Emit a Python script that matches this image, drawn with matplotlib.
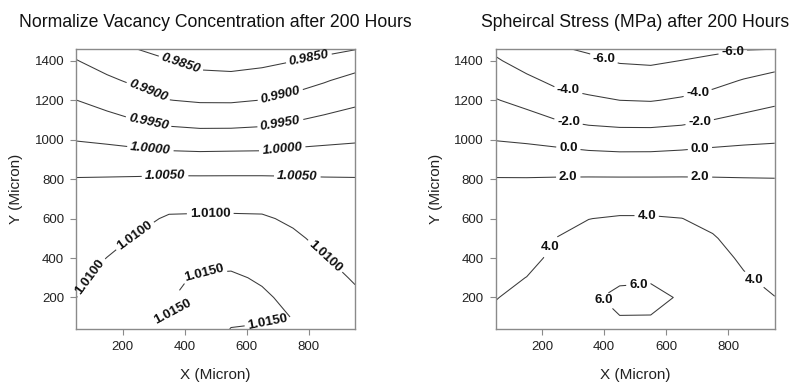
import numpy as np
import matplotlib.pyplot as plt

plt.rcParams['font.family'] = ['Liberation Sans', 'DejaVu Sans']

# grid nodes (micron)
x_nodes = [50, 150, 250, 350, 450, 550, 650, 750, 850, 950]
y_nodes = [40, 100, 200, 300, 400, 500, 600, 700, 800, 900,
           1000, 1100, 1200, 1300, 1400, 1460]

# normalized vacancy concentration, one row per y node
vacancy = [
    [1.0115, 1.0135, 1.0145, 1.0148, 1.0172, 1.0149, 1.0146, 1.0143, 1.0130, 1.0116],
    [1.0110, 1.0129, 1.0140, 1.0148, 1.0170, 1.0157, 1.0155, 1.01495, 1.0125, 1.0112],
    [1.00996, 1.0120, 1.0131, 1.0147, 1.0165, 1.0161, 1.0156, 1.0140, 1.0117, 1.0105],
    [1.0092, 1.0110, 1.0122, 1.0143, 1.0154, 1.01556, 1.01453, 1.0129, 1.01095, 1.00973],
    [1.0084, 1.01005, 1.0113, 1.0130, 1.0138, 1.0139, 1.0132, 1.0118, 1.01016, 1.00883],
    [1.00758, 1.00887, 1.01038, 1.01175, 1.0122, 1.01227, 1.01184, 1.01071, 1.00901, 1.00793],
    [1.00679, 1.00768, 1.00898, 1.01047, 1.0106, 1.01061, 1.0105, 1.00933, 1.00778, 1.00703],
    [1.00599, 1.00649, 1.00721, 1.00832, 1.00832, 1.00832, 1.00832, 1.0074, 1.00654, 1.00613],
    [1.0052, 1.0053, 1.00544, 1.00566, 1.00566, 1.00566, 1.00566, 1.00548, 1.00531, 1.00523],
    [1.00275, 1.0025, 1.0022, 1.00185, 1.00174, 1.00185, 1.00185, 1.00222, 1.00241, 1.0026],
    [0.99981, 0.99926, 0.99851, 0.9977, 0.99737, 0.99745, 0.99765, 0.99848, 0.99903, 0.99948],
    [0.99743, 0.99628, 0.99491, 0.99375, 0.99324, 0.99324, 0.99367, 0.99472, 0.99581, 0.99677],
    [0.99505, 0.99348, 0.99192, 0.99007, 0.98956, 0.98953, 0.99007, 0.99125, 0.99273, 0.99407],
    [0.99262, 0.9908, 0.98907, 0.98761, 0.9866, 0.98643, 0.98699, 0.98801, 0.98964, 0.99143],
    [0.99019, 0.98813, 0.98649, 0.98517, 0.98364, 0.98332, 0.98393, 0.98491, 0.98599, 0.98775],
    [0.9887, 0.98652, 0.98495, 0.98371, 0.98186, 0.98146, 0.98209, 0.98304, 0.9838, 0.9848],
]

# spherical stress (MPa), one row per y node
stress = [
    [4.44, 5.00, 5.30, 5.60, 5.70, 5.70, 5.40, 5.10, 4.55, 4.35],
    [4.26, 4.77, 5.14, 5.75, 5.97, 5.95, 5.65, 5.20, 4.50, 4.23],
    [3.95, 4.39, 4.87, 5.80, 6.30, 6.40, 5.85, 5.05, 4.30, 4.02],
    [3.64, 4.02, 4.59, 5.35, 5.79, 5.83, 5.39, 4.74, 4.11, 3.70],
    [3.33, 3.63, 4.32, 4.90, 5.24, 5.27, 4.93, 4.44, 3.81, 3.37],
    [3.01, 3.24, 4.05, 4.44, 4.69, 4.70, 4.48, 4.13, 3.37, 3.04],
    [2.70, 2.86, 3.46, 3.98, 4.14, 4.14, 4.02, 3.59, 2.94, 2.71],
    [2.39, 2.47, 2.80, 3.07, 3.22, 3.21, 3.10, 2.86, 2.51, 2.38],
    [2.08, 2.08, 2.13, 2.16, 2.16, 2.16, 2.16, 2.13, 2.08, 2.05],
    [1.10, 1.00, 0.88, 0.73, 0.64, 0.65, 0.75, 0.86, 0.94, 0.97],
    [-0.06, -0.25, -0.54, -0.87, -1.02, -1.01, -0.83, -0.55, -0.35, -0.21],
    [-0.99, -1.39, -2.01, -2.41, -2.59, -2.62, -2.42, -1.99, -1.59, -1.26],
    [-1.91, -2.52, -3.33, -3.72, -4.00, -4.08, -3.81, -3.31, -2.76, -2.32],
    [-2.85, -3.62, -4.43, -4.73, -5.07, -5.16, -4.91, -4.54, -3.89, -3.37],
    [-3.79, -4.73, -5.30, -5.66, -6.14, -6.25, -5.97, -5.66, -5.25, -4.80],
    [-4.36, -5.39, -5.83, -6.21, -6.78, -6.90, -6.60, -6.34, -6.08, -6.02],
]

vacancy_levels = [0.985, 0.990, 0.995, 1.000, 1.005, 1.010, 1.015]
stress_levels = [-6.0, -4.0, -2.0, 0.0, 2.0, 4.0, 6.0]

# where the contour labels sit
vacancy_label_at = [(383, 1362), (802, 1405), (278, 1227), (710, 1219),
                    (283, 1083), (710, 1075), (289, 939), (716, 939),
                    (337, 825), (764, 825), (235, 524), (116, 278),
                    (483, 634), (856, 414), (345, 130), (462, 337), (667, 83)]
stress_label_at = [(397, 1402), (816, 1432), (284, 1249), (703, 1227),
                   (284, 1083), (709, 1080), (284, 951), (709, 951),
                   (284, 815), (709, 815), (219, 464), (537, 625),
                   (886, 295), (402, 193), (510, 269)]

X, Y = np.meshgrid(x_nodes, y_nodes)

fig = plt.figure(figsize=(7.95, 3.82), dpi=100)
ax1 = fig.add_axes([0.0956, 0.1387, 0.351, 0.733])
ax2 = fig.add_axes([0.6235, 0.1387, 0.351, 0.733])

panels = [
    (ax1, vacancy, vacancy_levels, '%.4f', vacancy_label_at,
     'Normalize Vacancy Concentration after 200 Hours'),
    (ax2, stress, stress_levels, '%.1f', stress_label_at,
     'Spheircal Stress (MPa) after 200 Hours'),
]

for ax, field, levels, fmt, label_at, title in panels:
    cs = ax.contour(X, Y, np.array(field), levels=levels,
                    colors='#3a3a3a', linewidths=0.75,
                    negative_linestyles='solid')
    labels = ax.clabel(cs, fmt=fmt, fontsize=9.5, inline=True,
                       inline_spacing=3, manual=label_at)
    for t in labels:
        t.set_fontweight('bold')
        t.set_color('#111111')
        t.set_clip_on(False)
        t.set_zorder(4)
        if ax is ax2:
            # stress labels stay horizontal
            t.set_rotation(0)
        elif float(t.get_text()) <= 1.005:
            t.set_fontstyle('italic')
        elif t.get_text() == '1.0150' and t.get_position()[0] < 400:
            t.set_rotation(28)

    ax.set_xlim(50, 950)
    ax.set_ylim(40, 1460)
    ax.set_xticks([200, 400, 600, 800])
    ax.set_yticks([200, 400, 600, 800, 1000, 1200, 1400])
    ax.tick_params(direction='out', length=4, width=0.8, color='#8a8a8a',
                   labelsize=9.5, labelcolor='#222222', pad=4.5)
    for s in ax.spines.values():
        s.set_color('#8a8a8a')
        s.set_linewidth(1.0)

    ax.set_xlabel('X (Micron)', fontsize=11, color='#222222', labelpad=11)
    ax.set_ylabel('Y (Micron)', fontsize=11, color='#222222', labelpad=8)
    ax.set_title(title, fontsize=12.7, color='#111111', pad=16)

fig.savefig('out.png', dpi=100, facecolor='white')
